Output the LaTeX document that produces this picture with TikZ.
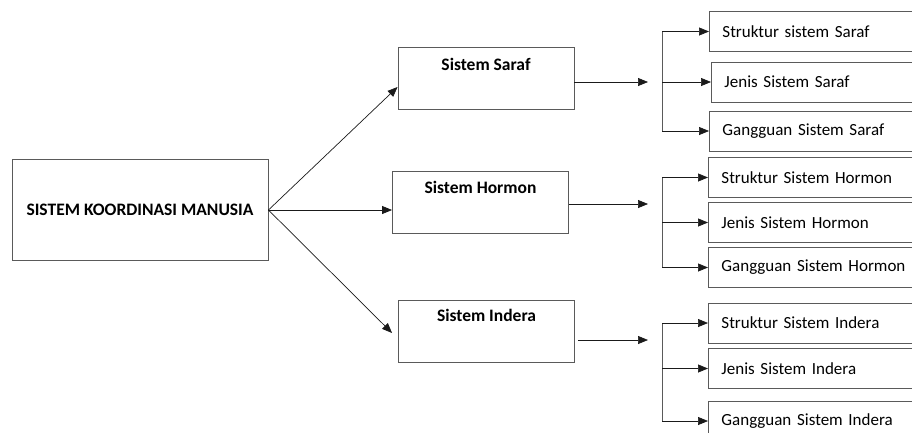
\documentclass[tikz,border=0pt]{standalone}
\usepackage{fontspec}
\setmainfont{Carlito}
\usetikzlibrary{arrows.meta}
\definecolor{edge}{HTML}{5A5A5A}
\definecolor{ink}{HTML}{1A1A1A}
\newcommand{\boxfont}{\fontsize{17pt}{20pt}\selectfont}
\newcommand{\headfont}{\fontsize{17.5pt}{20pt}\selectfont\bfseries}

\tikzset{
  mainbox/.style={draw=edge,line width=0.9pt,minimum width=256pt,minimum height=101pt,font=\headfont},
  subbox/.style={draw=edge,line width=0.9pt,minimum width=176pt,minimum height=62pt},
  subtitle/.style={font=\headfont,anchor=north},
  itembox/.style={draw=edge,line width=0.9pt,anchor=west,minimum height=40pt,text width=194pt,inner xsep=13pt,align=left,font=\boxfont},
  arr/.style={draw=ink,line width=0.7pt,-{Triangle[length=10pt,width=8pt]}},
  brk/.style={draw=edge,line width=0.9pt}
}

\begin{document}
\begin{tikzpicture}[x=1pt,y=-1pt]
\useasboundingbox (0,0) rectangle (912,432);

% left and middle column
\node[mainbox] (main) at (140,210) {SISTEM KOORDINASI MANUSIA};
\node[subbox] (saraf) at (486,78.5) {};
\node[subbox] (hormon) at (480.5,202) {};
\node[subbox] (indera) at (486.5,331) {};
\node[subtitle] (sarafT) at ([yshift=-8pt]saraf.north) {Sistem Saraf};
\node[subtitle] (hormonT) at ([yshift=-7pt]hormon.north) {Sistem Hormon};
\node[subtitle] (inderaT) at ([yshift=-6pt]indera.north) {Sistem Indera};

\draw[arr] (main.east) -- ([yshift=-8.5pt]saraf.west);
\draw[arr] (main.east) -- ([yshift=-8pt]hormon.west);
\draw[arr] (main.east) -- ([xshift=-6pt,yshift=-2pt]indera.west);

% right column
\node[itembox] (s1) at (709,31.5) {Struktur sistem Saraf};
\node[itembox] (s2) at (711,82) {Jenis Sistem Saraf};
\node[itembox] (s3) at (709,131) {Gangguan Sistem Saraf};
\node[itembox] (h1) at (708,177.5) {Struktur Sistem Hormon};
\node[itembox] (h2) at (708,222.5) {Jenis Sistem Hormon};
\node[itembox] (h3) at (708,267.5) {Gangguan Sistem Hormon};
\node[itembox] (i1) at (708,323) {Struktur Sistem Indera};
\node[itembox] (i2) at (708,368.5) {Jenis Sistem Indera};
\node[itembox] (i3) at (708,421) {Gangguan Sistem Indera};

\coordinate (sarafTip) at (648,82);
\coordinate (hormonTip) at (648,204);
\coordinate (inderaTip) at (648,340);
\draw[arr] ([yshift=-3.5pt]saraf.east) -- (sarafTip);
\draw[arr] ([yshift=-2pt]hormon.east) -- (hormonTip);
\draw[arr] ([xshift=3pt,yshift=-9pt]indera.east) -- (inderaTip);

\coordinate (sb) at (662,82);
\coordinate (hb) at (662,224);
\coordinate (ib) at (662,369);
\draw[brk] (sb |- s1.west) -- (sb |- s3.west);
\draw[brk] (hb |- h1.west) -- (hb |- h3.west);
\draw[brk] (ib |- i1.west) -- (ib |- i3.west);
\foreach \b/\n in {sb/s1,sb/s2,sb/s3,hb/h1,hb/h2,hb/h3,ib/i1,ib/i2,ib/i3}
  \draw[arr] (\b |- \n.west) -- (\n.west);
\end{tikzpicture}
\end{document}
